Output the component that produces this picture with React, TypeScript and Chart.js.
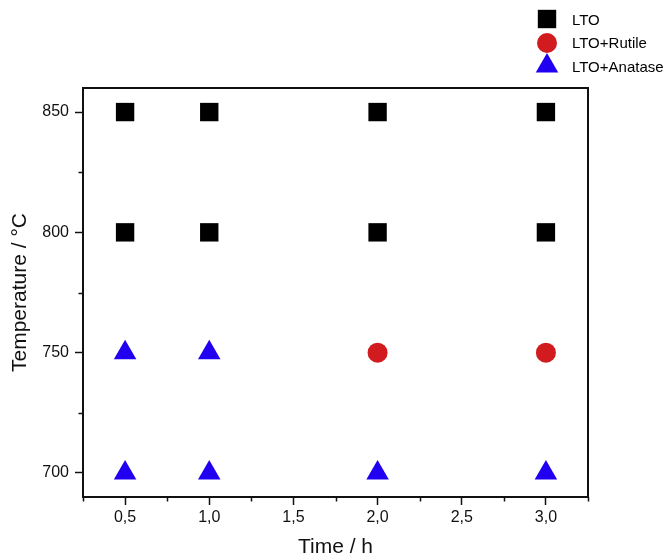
import React, { useEffect, useRef } from 'react';
import { Chart, registerables } from 'chart.js';
import { drawPoint } from 'chart.js/helpers';

Chart.register(...registerables);

// Data (time in h, temperature in °C)
const ltoTime = [0.5, 1.0, 2.0, 3.0, 0.5, 1.0, 2.0, 3.0];
const ltoTemp = [850, 850, 850, 850, 800, 800, 800, 800];
const rutileTime = [2.0, 3.0];
const rutileTemp = [750, 750];
const anataseTime = [0.5, 1.0, 0.5, 1.0, 2.0, 3.0];
const anataseTemp = [750, 750, 700, 700, 700, 700];

const seriesLabels = ['LTO', 'LTO+Rutile', 'LTO+Anatase'];

const xMajorTicks = [0.5, 1.0, 1.5, 2.0, 2.5, 3.0];
const xTickLabels = ['0,5', '1,0', '1,5', '2,0', '2,5', '3,0'];
const xMinorTicks = [0.25, 0.75, 1.25, 1.75, 2.25, 2.75, 3.25];
const yMajorTicks = [700, 750, 800, 850];
const yTickLabels = ['700', '750', '800', '850'];
const yMinorTicks = [725, 775, 825];

const FONT = "'Liberation Sans', Arial, sans-serif";
const BLACK = '#000000';
const RED = '#D11B1F';
const BLUE = '#2100F2';

const toPoints = (xs: number[], ys: number[]) => xs.map((x, i) => ({ x, y: ys[i] }));

const framePlugin = {
  id: 'frameAndLegend',
  afterDraw(chart: any) {
    const { ctx, chartArea } = chart;
    const xs = chart.scales.x;
    const ys = chart.scales.y;
    ctx.save();
    // frame
    ctx.strokeStyle = '#111';
    ctx.lineWidth = 2;
    ctx.strokeRect(chartArea.left, chartArea.top, chartArea.right - chartArea.left, chartArea.bottom - chartArea.top);
    // minor ticks
    ctx.lineWidth = 1.5;
    ctx.beginPath();
    xMinorTicks.forEach((v) => {
      const px = Math.round(xs.getPixelForValue(v)) + 0.5;
      ctx.moveTo(px, chartArea.bottom);
      ctx.lineTo(px, chartArea.bottom + 4.5);
    });
    yMinorTicks.forEach((v) => {
      const py = Math.round(ys.getPixelForValue(v)) + 0.5;
      ctx.moveTo(chartArea.left - 4.5, py);
      ctx.lineTo(chartArea.left, py);
    });
    ctx.stroke();
    // legend
    const legendX = 547;
    const markerY = [19, 43, 66];
    const textY = [21, 44, 68];
    ctx.font = `15px ${FONT}`;
    ctx.textAlign = 'left';
    ctx.textBaseline = 'middle';
    chart.data.datasets.forEach((ds: any, i: number) => {
      ctx.fillStyle = ds.backgroundColor;
      drawPoint(ctx, { pointStyle: ds.pointStyle, radius: ds.pointRadius, rotation: 0, borderWidth: 0 }, legendX, markerY[i]);
      ctx.fillStyle = BLACK;
      ctx.fillText(ds.label, 572, textY[i]);
    });
    ctx.restore();
  },
};

export default function App() {
  const ref = useRef<HTMLCanvasElement | null>(null);

  useEffect(() => {
    if (!ref.current) return;
    const chart = new Chart(ref.current, {
      type: 'scatter',
      data: {
        datasets: [
          {
            label: seriesLabels[0],
            data: toPoints(ltoTime, ltoTemp),
            pointStyle: 'rect',
            pointRadius: 13,
            backgroundColor: BLACK,
            borderWidth: 0,
          },
          {
            label: seriesLabels[1],
            data: toPoints(rutileTime, rutileTemp),
            pointStyle: 'circle',
            pointRadius: 10,
            backgroundColor: RED,
            borderWidth: 0,
          },
          {
            label: seriesLabels[2],
            data: toPoints(anataseTime, anataseTemp),
            pointStyle: 'triangle',
            pointRadius: 13,
            backgroundColor: BLUE,
            borderWidth: 0,
          },
        ] as any,
      },
      options: {
        animation: false,
        responsive: false,
        events: [],
        layout: { padding: { top: 88, right: 82, left: 0, bottom: 0 } },
        plugins: {
          legend: { display: false },
          tooltip: { enabled: false },
        },
        scales: {
          x: {
            type: 'linear',
            min: 0.25,
            max: 3.25,
            afterBuildTicks: (s: any) => {
              s.ticks = xMajorTicks.map((value) => ({ value }));
            },
            afterFit: (s: any) => {
              s.height = 61;
            },
            grid: { drawOnChartArea: false, drawTicks: true, tickLength: 8, tickColor: '#111', tickWidth: 1.5 },
            border: { display: true, color: '#111', width: 2 },
            ticks: {
              autoSkip: false,
              maxRotation: 0,
              padding: 3,
              color: '#111',
              font: { family: FONT, size: 16 },
              callback: (v: any) => {
                const i = xMajorTicks.indexOf(Number(v));
                return i >= 0 ? xTickLabels[i] : '';
              },
            },
            title: {
              display: true,
              text: 'Time / h',
              color: '#111',
              font: { family: FONT, size: 21, lineHeight: 1 },
              padding: { top: 0, bottom: 0 },
            },
          },
          y: {
            type: 'linear',
            min: 690,
            max: 860,
            afterBuildTicks: (s: any) => {
              s.ticks = yMajorTicks.map((value) => ({ value }));
            },
            afterFit: (s: any) => {
              s.width = 83;
            },
            grid: { drawOnChartArea: false, drawTicks: true, tickLength: 8, tickColor: '#111', tickWidth: 1.5 },
            border: { display: true, color: '#111', width: 2 },
            ticks: {
              autoSkip: false,
              padding: 6,
              color: '#111',
              font: { family: FONT, size: 16 },
              callback: (v: any) => {
                const i = yMajorTicks.indexOf(Number(v));
                return i >= 0 ? yTickLabels[i] : '';
              },
            },
            title: {
              display: true,
              text: 'Temperature / °C',
              color: '#111',
              font: { family: FONT, size: 21, lineHeight: 1.2 },
              padding: { top: 8, bottom: 0 },
            },
          },
        },
      },
      plugins: [framePlugin],
    } as any);
    return () => chart.destroy();
  }, []);

  return (
    <div style={{ position: 'fixed', left: 0, top: 0, width: 670, height: 558, background: '#ffffff' }}>
      <canvas ref={ref} width={670} height={558} style={{ display: 'block', width: 670, height: 558 }} />
    </div>
  );
}
